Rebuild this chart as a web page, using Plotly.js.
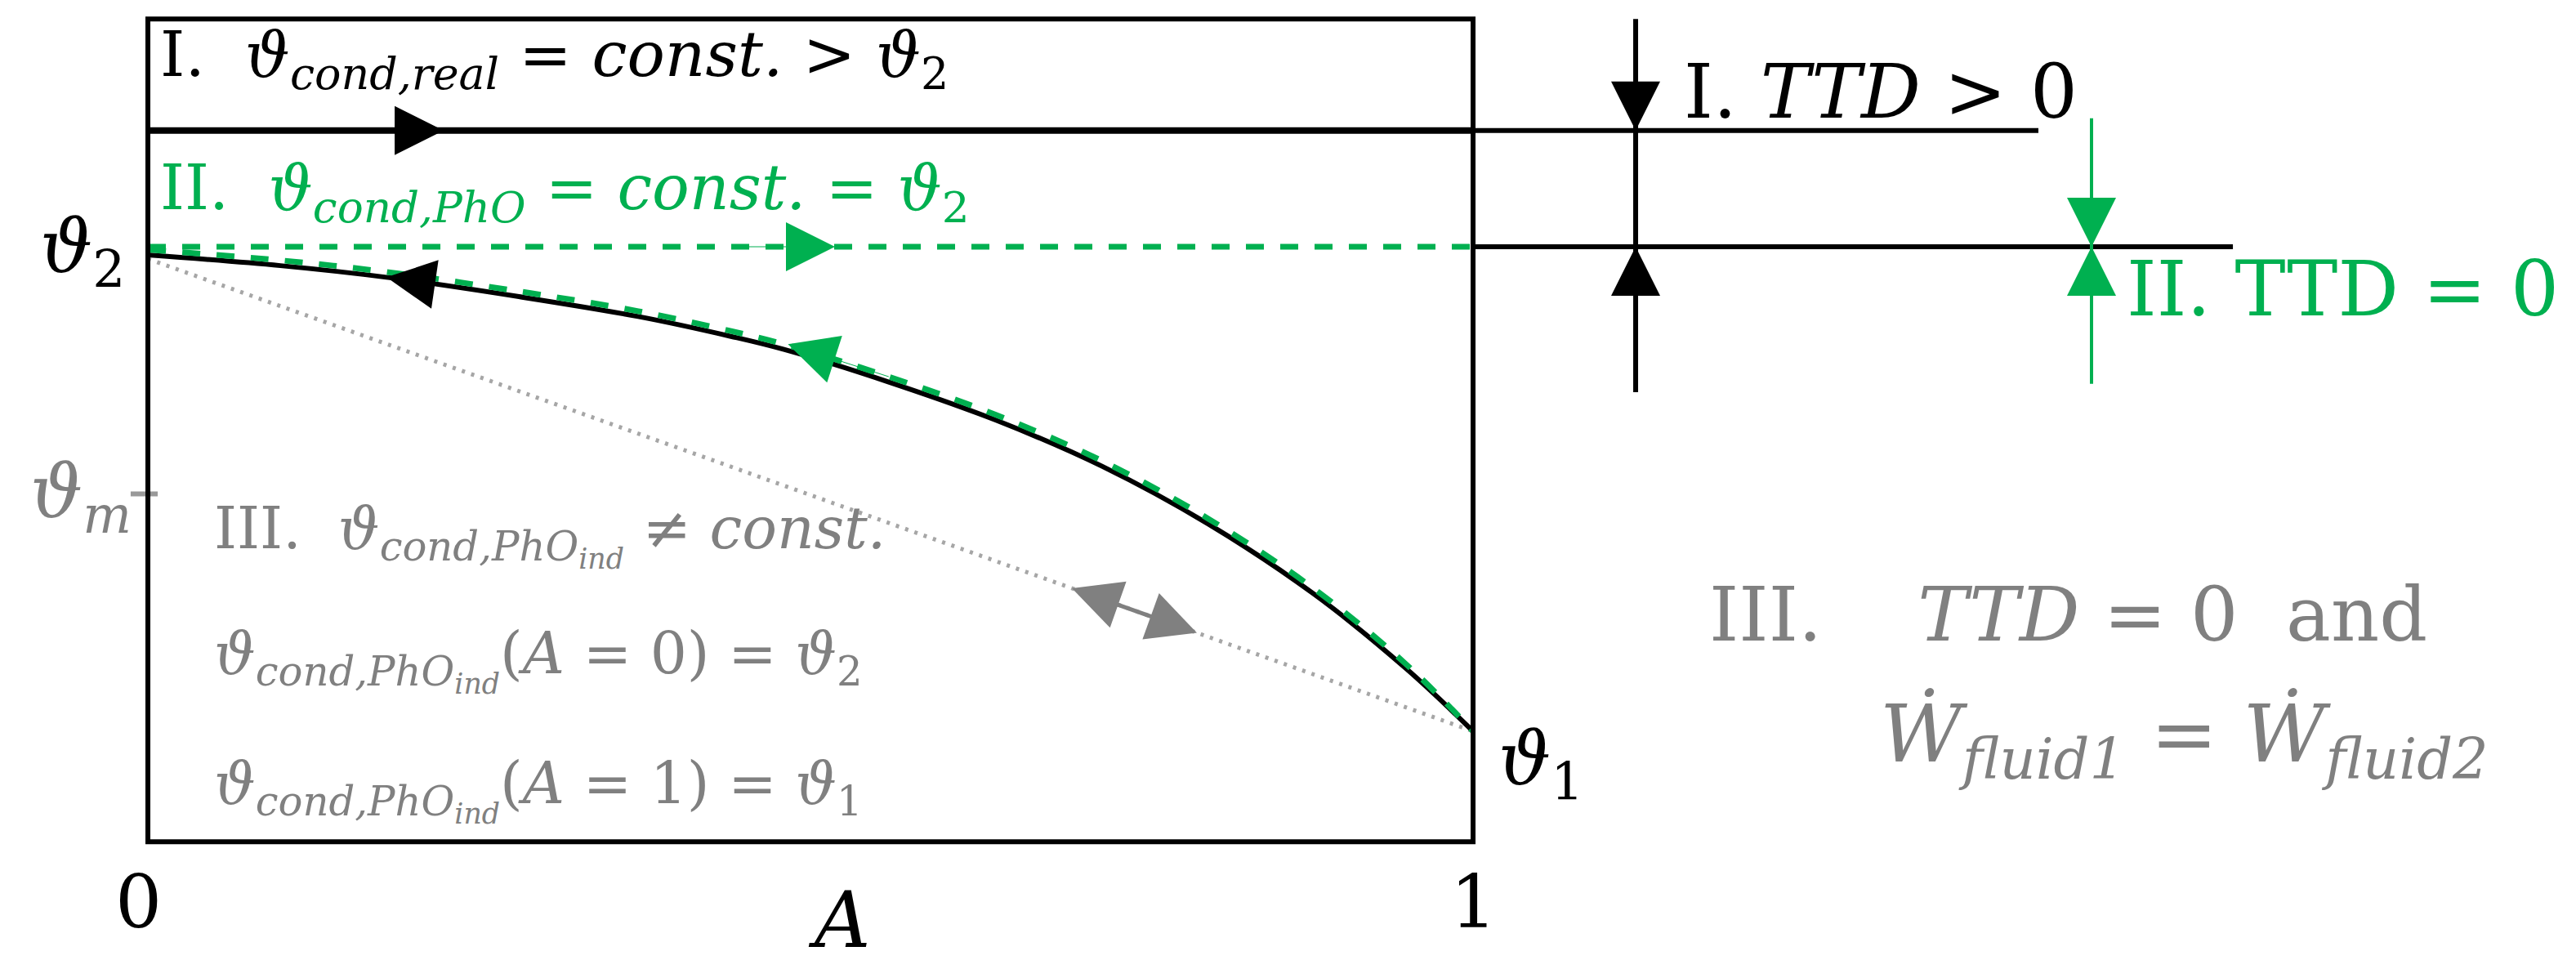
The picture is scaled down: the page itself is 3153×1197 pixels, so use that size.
<!DOCTYPE html>
<html>
<head>
<meta charset="utf-8">
<script src="https://cdn.plot.ly/plotly-3.0.1.min.js"></script>
<style>
    html, body { margin: 0; padding: 0; background: #fff; }
    #plot { width: 3153px; height: 1197px; }
</style>
</head>
<body>
<div id="plot"></div>
<script>
// A = position along the exchanger, temperature as (ϑ - ϑ1) / (ϑ2 - ϑ1)
let curveA = [0, 0.1, 0.18, 0.28, 0.37, 0.44, 0.48, 0.56, 0.64, 0.72, 0.80, 0.88, 0.95, 1.0];
let realTemp = [0.983, 0.961, 0.937, 0.897, 0.856, 0.815, 0.788, 0.720, 0.642, 0.547, 0.428, 0.283, 0.128, 0.0];
let phoTemp = [0.994, 0.972, 0.948, 0.908, 0.867, 0.826, 0.799, 0.731, 0.653, 0.558, 0.439, 0.294, 0.137, 0.0];

let indA = [0, 1];
let indTemp = [0.975, 0];

let condRealTemp = 1.24;   // I.  ϑcond,real
let condPhoTemp = 1.0;     // II. ϑcond,PhO = ϑ2
let thetaM = 0.49;

let boxTemp = [-0.228, 1.47];
let lineIEnd = 1.4266;
let lineIIEnd = 1.5734;
let ttdA = [1.1227, 1.4667];          // black / green dimension lines
let ttdTop = [1.47, 1.265];
let ttdBottom = [0.70, 0.717];

let xTicks = ['0', '1'];

const black = '#000000';
const green = '#00b050';
const grey = '#808080';
const font = 'DejaVu Serif';

let traces = [
    { x: indA, y: indTemp, mode: 'lines',
      line: { color: '#a6a6a6', width: 5, dash: '4px,8px' } },
    { x: [0.725, 0.765], y: [0.268, 0.229], mode: 'lines',
      line: { color: grey, width: 5 } },
    { x: curveA, y: realTemp, mode: 'lines',
      line: { color: black, width: 6, shape: 'spline' } },
    { x: curveA, y: phoTemp, mode: 'lines',
      line: { color: green, width: 7, dash: '22px,20px', shape: 'spline' } },
    { x: [0, 1], y: [condRealTemp, condRealTemp], mode: 'lines',
      line: { color: black, width: 8 } },
    { x: [1, lineIEnd], y: [condRealTemp, condRealTemp], mode: 'lines',
      line: { color: black, width: 6 } },
    { x: [0, 1], y: [condPhoTemp, condPhoTemp], mode: 'lines',
      line: { color: green, width: 7, dash: '22px,20px' } },
    { x: [1, lineIIEnd], y: [condPhoTemp, condPhoTemp], mode: 'lines',
      line: { color: black, width: 6 } },
    { x: [ttdA[0], ttdA[0]], y: [ttdTop[0], ttdBottom[0]], mode: 'lines',
      line: { color: black, width: 6 } },
    { x: [ttdA[1], ttdA[1]], y: [ttdTop[1], ttdBottom[1]], mode: 'lines',
      line: { color: green, width: 4 } },
    { x: [-0.013, 0.0074], y: [thetaM, thetaM], mode: 'lines',
      line: { color: '#999999', width: 6 } }
];

function arrow(tipA, tipT, tailA, tailT, color) {
    return {
        x: tipA, y: tipT, ax: tailA, ay: tailT,
        xref: 'x', yref: 'y', axref: 'x', ayref: 'y',
        text: ' ', font: { size: 1 },
        showarrow: true, arrowhead: 2, arrowsize: 12, arrowwidth: 1,
        arrowcolor: color, standoff: 0
    };
}

function label(text, a, t, size, color, anchor) {
    return {
        x: a, y: t, xref: 'x', yref: 'y', text: text, showarrow: false,
        xanchor: anchor || 'left', yanchor: 'middle',
        font: { family: font, size: size, color: color || black }
    };
}

let sp = '\u00a0';
let phoInd = '<i>ϑ</i><sub><i>cond,PhO<sub>ind</sub></i></sub>';

let annotations = [
    arrow(0.2232, condRealTemp, 0.15, condRealTemp, black),
    arrow(0.18, 0.937, 0.26, 0.905, black),
    arrow(0.5185, condPhoTemp, 0.45, condPhoTemp, green),
    arrow(0.483, 0.799, 0.56, 0.731, green),
    arrow(0.6973, 0.295, 0.745, 0.249, grey),
    arrow(0.7916, 0.203, 0.745, 0.249, grey),
    arrow(ttdA[0], condRealTemp, ttdA[0], 1.40, black),
    arrow(ttdA[0], condPhoTemp, ttdA[0], 0.85, black),
    arrow(ttdA[1], condPhoTemp, ttdA[1], 1.2, green),
    arrow(ttdA[1], condPhoTemp, ttdA[1], 0.8, green),

    label('I.' + sp + sp + '<i>ϑ</i><sub><i>cond,real</i></sub> = <i>const.</i> &gt; <i>ϑ</i><sub>2</sub>',
          0.008, 1.388, 77, black),
    label('II.' + sp + sp + '<i>ϑ</i><sub><i>cond,PhO</i></sub> = <i>const.</i> = <i>ϑ</i><sub>2</sub>',
          0.008, 1.113, 76, green),
    label('<i>ϑ</i><sub>2</sub>', -0.016, 0.99, 90, black, 'right'),
    label('<i>ϑ</i><sub><i>m</i></sub>', -0.011, 0.484, 90, grey, 'right'),
    label('<i>ϑ</i><sub>1</sub>', 1.018, -0.067, 90, black),
    label('III.' + sp + sp + phoInd + ' ≠ <i>const.</i>', 0.0487, 0.405, 71, grey),
    label(phoInd + '(<i>A</i> = 0) = <i>ϑ</i><sub>2</sub>', 0.0487, 0.147, 71, grey),
    label(phoInd + '(<i>A</i> = 1) = <i>ϑ</i><sub>1</sub>', 0.0487, -0.121, 71, grey),
    label(xTicks[0], -0.007, -0.351, 90, black, 'center'),
    label(xTicks[1], 1.0, -0.351, 90, black, 'center'),
    label('<i>A</i>', 0.5216, -0.39, 95, black, 'center'),
    label('I.' + sp + '<i>TTD</i> &gt; 0', 1.158, 1.32, 91, black),
    label('II.' + sp + 'TTD = 0', 1.492, 0.912, 93, green),
    label('III.' + sp + sp + sp + sp + '<i>TTD</i> = 0' + sp + sp + 'and', 1.177, 0.241, 92, grey),
    label('<i>Ẇ</i><sub><i>fluid1</i></sub> = <i>Ẇ</i><sub><i>fluid2</i></sub>', 1.306, -0.017, 98, grey)
];

let layout = {
    width: 3153,
    height: 1197,
    margin: { l: 0, r: 0, t: 0, b: 0 },
    paper_bgcolor: '#ffffff',
    plot_bgcolor: '#ffffff',
    showlegend: false,
    xaxis: { range: [-0.1116, 1.8323], visible: false, fixedrange: true },
    yaxis: { range: [-0.5093, 1.5093], visible: false, fixedrange: true },
    shapes: [{
        type: 'rect', xref: 'x', yref: 'y',
        x0: 0, x1: 1, y0: boxTemp[0], y1: boxTemp[1],
        line: { color: black, width: 6 }
    }],
    annotations: annotations
};

Plotly.newPlot('plot', traces, layout, { staticPlot: true });
</script>
</body>
</html>
